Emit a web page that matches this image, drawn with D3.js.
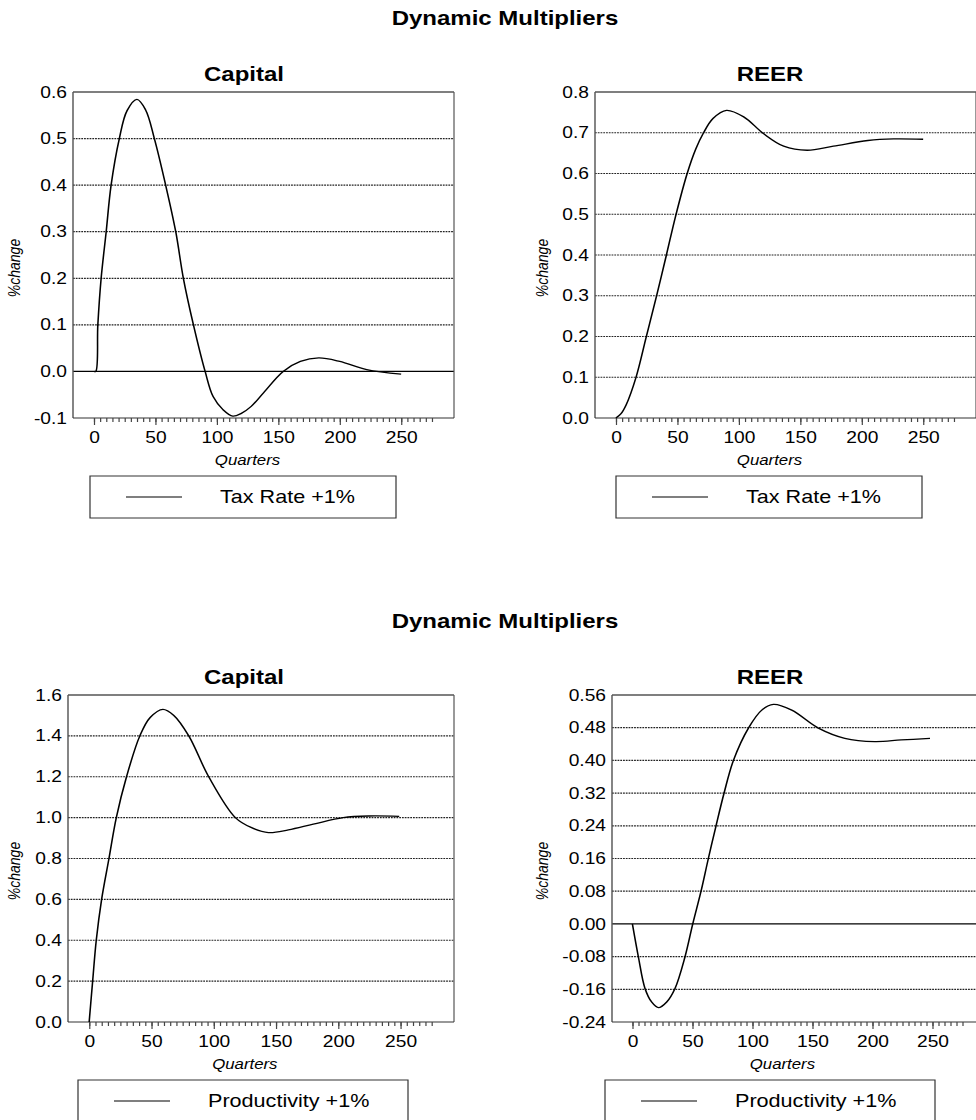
<!DOCTYPE html>
<html>
<head>
<meta charset="utf-8">
<script src="https://cdn.jsdelivr.net/npm/d3@7"></script>
<style>
  body { margin: 0; background: #fff; }
  text { font-family: "Liberation Sans", Arial, sans-serif; fill: #000; }
</style>
</head>
<body>
<svg id="chart" width="976" height="1120"></svg>
<script>
// ---- data ----
const pageTitle = "Dynamic Multipliers";
const xLabel = "Quarters";
const yLabel = "%change";
const xMajorTicks = [0, 50, 100, 150, 200, 250];
const xMinorTicks = d3.range(0, 280, 5);

const capTaxQ = [0, 1.5, 3.2, 5.9, 10, 14, 20.7, 27, 35, 42, 49.2, 58.4, 66.6, 72.8, 81, 90.5, 97, 105, 113, 120, 128, 138, 154, 168, 183, 200, 222, 250];
const capTaxV = [0, 0, 0.1, 0.2, 0.3, 0.4, 0.5, 0.56, 0.584, 0.562, 0.5, 0.4, 0.3, 0.2, 0.1, 0, -0.054, -0.082, -0.096, -0.09, -0.075, -0.046, 0, 0.0215, 0.029, 0.0215, 0.004, -0.006];
const capTaxTicks = [-0.1, 0.0, 0.1, 0.2, 0.3, 0.4, 0.5, 0.6];

const reerTaxQ = [0, 4, 8.3, 16.5, 24.7, 32.9, 41.1, 48.8, 58, 65, 71, 79, 90, 104, 120, 136.5, 155.6, 177, 205, 226, 250];
const reerTaxV = [0, 0.01, 0.032, 0.101, 0.199, 0.297, 0.4, 0.498, 0.6, 0.66, 0.698, 0.735, 0.755, 0.739, 0.698, 0.667, 0.657, 0.667, 0.681, 0.685, 0.684];
const reerTaxTicks = [0.0, 0.1, 0.2, 0.3, 0.4, 0.5, 0.6, 0.7, 0.8];

const capProdQ = [0, 2.8, 5.7, 10, 15.9, 21.8, 30, 40.7, 49, 59.2, 68, 80, 96, 117.4, 130, 144, 160, 180, 204, 225, 249];
const capProdV = [0, 0.2, 0.4, 0.6, 0.8, 1.0, 1.2, 1.4, 1.49, 1.53, 1.5, 1.4, 1.2, 1.0, 0.952, 0.927, 0.94, 0.968, 1.0, 1.008, 1.006];
const capProdTicks = [0.0, 0.2, 0.4, 0.6, 0.8, 1.0, 1.2, 1.4, 1.6];

const reerProdQ = [0, 5, 10.5, 16, 21.7, 28.6, 35.5, 43.8, 50.3, 57.2, 63.3, 69.7, 76.3, 84.2, 96.7, 107.8, 117.5, 132.8, 155, 177, 202, 224, 248];
const reerProdV = [0, -0.081, -0.158, -0.191, -0.205, -0.191, -0.158, -0.081, 0, 0.08, 0.16, 0.24, 0.319, 0.4, 0.479, 0.523, 0.537, 0.523, 0.479, 0.454, 0.446, 0.45, 0.454];
const reerProdTicks = [-0.24, -0.16, -0.08, 0.0, 0.08, 0.16, 0.24, 0.32, 0.40, 0.48, 0.56];

// the picture is stretched sideways, so draw in narrow units and scale x
const SX = 1.2;
const ux = v => v / SX;

const svg = d3.select("#chart");
const root = svg.append("g").attr("transform", `scale(${SX},1)`);

// block titles
root.append("text").attr("x", ux(505)).attr("y", 25)
  .attr("text-anchor", "middle").attr("font-weight", "bold").attr("font-size", 20)
  .text(pageTitle);
root.append("text").attr("x", ux(505)).attr("y", 628)
  .attr("text-anchor", "middle").attr("font-weight", "bold").attr("font-size", 20)
  .text(pageTitle);

function drawPanel(p) {
  const g = root.append("g");
  const x = d3.scaleLinear().domain([-17, 293]).range([ux(p.left), ux(p.right)]);
  const y = d3.scaleLinear().domain([p.ticks[0], p.ticks[p.ticks.length - 1]]).range([p.bottom, p.top]);
  const fmt = d3.format(p.fmt);

  // grid lines
  g.selectAll(".grid").data(p.ticks.slice(1, -1)).enter().append("line")
    .attr("x1", ux(p.left)).attr("x2", ux(p.right))
    .attr("y1", d => y(d)).attr("y2", d => y(d))
    .attr("stroke", d => d === 0 ? "#000" : "#222")
    .attr("stroke-width", 1.2)
    .attr("stroke-dasharray", d => d === 0 ? null : "1.5,0.8");

  // frame
  g.append("line").attr("x1", ux(p.left)).attr("x2", ux(p.right)).attr("y1", p.top).attr("y2", p.top)
    .attr("stroke", "#000").attr("stroke-width", 1.2);
  g.append("line").attr("x1", ux(p.right)).attr("x2", ux(p.right)).attr("y1", p.top).attr("y2", p.bottom)
    .attr("stroke", "#555").attr("stroke-width", 1);
  g.append("line").attr("x1", ux(p.left)).attr("x2", ux(p.left)).attr("y1", p.top).attr("y2", p.bottom)
    .attr("stroke", "#555").attr("stroke-width", 1.2);
  g.append("line").attr("x1", ux(p.left)).attr("x2", ux(p.right)).attr("y1", p.bottom).attr("y2", p.bottom)
    .attr("stroke", "#333").attr("stroke-width", 1.2);

  // y tick labels
  const yAxis = g.append("g").attr("transform", `translate(${ux(p.left)},0)`)
    .call(d3.axisLeft(y).tickValues(p.ticks).tickSize(0).tickPadding(ux(6))
      .tickFormat(d => fmt(d).replace("\u2212", "-")));
  yAxis.select(".domain").remove();
  yAxis.selectAll("text").attr("font-size", 16).attr("font-family", null);

  // x ticks
  const xMinor = g.append("g").attr("transform", `translate(0,${p.bottom})`)
    .call(d3.axisBottom(x).tickValues(xMinorTicks).tickSize(4).tickFormat(""));
  xMinor.select(".domain").remove();
  xMinor.selectAll("line").attr("stroke", "#444");
  const xMajor = g.append("g").attr("transform", `translate(0,${p.bottom})`)
    .call(d3.axisBottom(x).tickValues(xMajorTicks).tickSize(7).tickPadding(7));
  xMajor.select(".domain").remove();
  xMajor.selectAll("line").attr("stroke", "#444");
  xMajor.selectAll("text").attr("font-size", 16).attr("font-family", null);

  g.append("text").attr("x", x(125)).attr("y", p.bottom + 47)
    .attr("text-anchor", "middle").attr("font-style", "italic").attr("font-size", 14)
    .text(xLabel);

  g.append("text")
    .attr("transform", `translate(${ux(p.yLabX)},${p.top + 176}) rotate(-90)`)
    .attr("text-anchor", "middle").attr("font-style", "italic").attr("font-size", 14)
    .text(yLabel);

  // panel title
  g.append("text").attr("x", ux(p.center)).attr("y", p.top - 11)
    .attr("text-anchor", "middle").attr("font-weight", "bold").attr("font-size", 20)
    .text(p.title);

  // series
  const pts = p.q.map((q, i) => [q, p.v[i]]);
  g.append("path").datum(pts)
    .attr("fill", "none").attr("stroke", "#000").attr("stroke-width", 1.3)
    .attr("d", d3.line().x(d => x(d[0])).y(d => y(d[1])).curve(d3.curveCatmullRom.alpha(0.5)));

  // legend
  const lg = g.append("g");
  lg.append("rect").attr("x", ux(p.legL)).attr("y", p.bottom + 58)
    .attr("width", ux(p.legR - p.legL)).attr("height", 42)
    .attr("fill", "none").attr("stroke", "#333").attr("stroke-width", 1);
  lg.append("line").attr("x1", ux(p.legL + 36)).attr("x2", ux(p.legL + 92))
    .attr("y1", p.bottom + 79).attr("y2", p.bottom + 79)
    .attr("stroke", "#000").attr("stroke-width", 1);
  lg.append("text").attr("x", ux(p.legL + p.legTextOff)).attr("y", p.bottom + 85)
    .attr("font-size", 18).text(p.legend);
}

drawPanel({ title: "Capital", q: capTaxQ, v: capTaxV, ticks: capTaxTicks, fmt: ".1f",
  left: 73, right: 454, top: 92, bottom: 418, center: 244, yLabX: 20,
  legL: 90, legR: 396, legTextOff: 130, legend: "Tax Rate +1%" });
drawPanel({ title: "REER", q: reerTaxQ, v: reerTaxV, ticks: reerTaxTicks, fmt: ".1f",
  left: 595, right: 976, top: 92, bottom: 418, center: 770, yLabX: 548,
  legL: 616, legR: 922, legTextOff: 130, legend: "Tax Rate +1%" });
drawPanel({ title: "Capital", q: capProdQ, v: capProdV, ticks: capProdTicks, fmt: ".1f",
  left: 68, right: 454, top: 695, bottom: 1022, center: 244, yLabX: 20,
  legL: 78, legR: 408, legTextOff: 130, legend: "Productivity +1%" });
drawPanel({ title: "REER", q: reerProdQ, v: reerProdV, ticks: reerProdTicks, fmt: ".2f",
  left: 612, right: 984, top: 695, bottom: 1022, center: 770, yLabX: 548,
  legL: 605, legR: 935, legTextOff: 130, legend: "Productivity +1%" });
</script>
</body>
</html>
